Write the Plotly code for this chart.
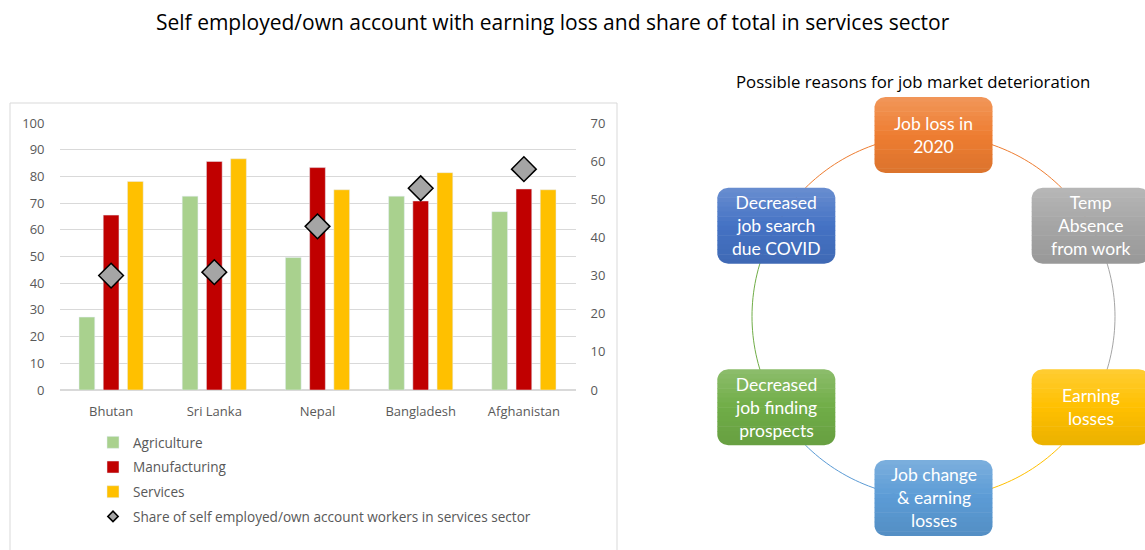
import math
import plotly.graph_objects as go

# ---------------- data ----------------
countries = ["Bhutan", "Sri Lanka", "Nepal", "Bangladesh", "Afghanistan"]
agriculture = [27.3, 72.6, 49.6, 72.6, 66.8]
manufacturing = [65.5, 85.6, 83.3, 70.8, 75.3]
services = [78.1, 86.6, 75.0, 81.4, 75.0]
share_services = [30.0, 30.9, 42.9, 52.9, 57.9]

title_text = "Self employed/own account with earning loss and share of total in services sector"
diagram_title = "Possible reasons for job market deterioration"
share_name = "Share of self employed/own account workers in services sector"
cycle_labels = [
    "Job loss in<br>2020",
    "Temp<br>Absence<br>from work",
    "Earning<br>losses",
    "Job change<br>& earning<br>losses",
    "Decreased<br>job finding<br>prospects",
    "Decreased<br>job search<br>due COVID",
]
cycle_colors = ["#EE7D31", "#A5A5A5", "#FFC000", "#5B9BD5", "#70AD47", "#4472C4"]
arc_colors = ["#EE7D31", "#A5A5A5", "#FFC000", "#5B9BD5", "#70AD47", "#EE7D31"]

W, H = 1145, 550
FONT = "'Open Sans', Lato, sans-serif"
BOXFONT = "Lato, 'Open Sans', sans-serif"


def fx(px):
    return px / W


def fy(py):
    return 1 - py / H


fig = go.Figure()
fig.add_trace(go.Bar(name="Agriculture", x=countries, y=agriculture,
                     marker_color="#A9D18E", legendgroup="a"))
fig.add_trace(go.Bar(name="Manufacturing", x=countries, y=manufacturing,
                     marker_color="#C00000", legendgroup="b"))
fig.add_trace(go.Bar(name="Services", x=countries, y=services,
                     marker_color="#FFC000", legendgroup="c"))
fig.add_trace(go.Scatter(name=share_name, x=countries, y=share_services, yaxis="y2", mode="markers",
                         marker=dict(symbol="diamond", size=19, color="#A5A5A5",
                                     line=dict(color="#000000", width=1.5)),
                         legendgroup="d", showlegend=False))
# legend-only entry with a small marker
fig.add_trace(go.Scatter(name=share_name, x=[None], y=[None], yaxis="y2", mode="markers",
                         marker=dict(symbol="diamond", size=8, color="#A5A5A5",
                                     line=dict(color="#000000", width=1.5)),
                         legendgroup="d", showlegend=True, hoverinfo="skip"))

px0, px1 = 59.5, 575.5
y0px, y100px = 390, 123
fig.update_layout(
    width=W, height=H, autosize=False,
    margin=dict(l=0, r=0, t=0, b=0, autoexpand=False),
    paper_bgcolor="white", plot_bgcolor="rgba(0,0,0,0)",
    font=dict(family=FONT, color="#595959", size=13),
    barmode="group", bargap=0.296, bargroupgap=0.35,
    xaxis=dict(domain=[fx(px0), fx(px1)], anchor="y", showgrid=False, showline=False,
               ticks="", ticklabelstandoff=12, automargin=False,
               tickfont=dict(size=13, color="#595959")),
    yaxis=dict(domain=[fy(y0px), fy(y100px)], range=[0, 100], dtick=10,
               gridcolor="#D9D9D9", gridwidth=1, zeroline=True, zerolinecolor="#D9D9D9",
               showline=False, ticks="", ticklabelstandoff=14, automargin=False,
               tickfont=dict(size=13, color="#595959")),
    yaxis2=dict(overlaying="y", side="right", anchor="x", range=[0, 70], dtick=10,
                showgrid=False, zeroline=False, showline=False, ticks="", automargin=False,
                ticklabelstandoff=14, tickfont=dict(size=13, color="#595959")),
    legend=dict(x=fx(93), y=fy(427), xanchor="left", yanchor="top",
                orientation="v", tracegroupgap=4, bgcolor="rgba(0,0,0,0)",
                font=dict(size=13.6, color="#595959", family=FONT)),
    showlegend=True,
)

shapes = []
# chart frame
shapes.append(dict(type="rect", xref="paper", yref="paper", x0=fx(10), y0=fy(103), x1=fx(617), y1=fy(565),
                   line=dict(color="#D9D9D9", width=1), fillcolor="rgba(0,0,0,0)", layer="below"))

# cycle diagram geometry (pixels)
cx, cy, R = 933.5, 316.5, 181.5
bw, bh, rr = 118, 76, 11
angles = [90, 30, -30, -90, -150, 150]
centers = [(cx + R * math.cos(math.radians(a)), cy - R * math.sin(math.radians(a))) for a in angles]

# arcs
for i in range(6):
    a0 = angles[i]
    a1 = angles[i] - 60
    pts = []
    n = 40
    for k in range(n + 1):
        a = math.radians(a0 + (a1 - a0) * k / n)
        pts.append((cx + R * math.cos(a), cy - R * math.sin(a)))
    path = "M " + " L ".join(f"{fx(x):.5f},{fy(y):.5f}" for x, y in pts)
    shapes.append(dict(type="path", xref="paper", yref="paper", path=path,
                       line=dict(color=arc_colors[i], width=1)))


def hex_to_rgb(h):
    h = h.lstrip("#")
    return [int(h[i:i + 2], 16) for i in (0, 2, 4)]


def mix(c1, c2, t):
    return [c1[k] + (c2[k] - c1[k]) * t for k in range(3)]


def rgb_str(c):
    return "rgb(%d,%d,%d)" % tuple(int(round(v)) for v in c)


def x_extent(y, x0, x1, y0, y1, r):
    if y < y0 + r:
        d = y0 + r - y
    elif y > y1 - r:
        d = y - (y1 - r)
    else:
        d = 0.0
    d = min(d, r)
    inset = r - math.sqrt(max(r * r - d * d, 0.0))
    return x0 + inset, x1 - inset


def band_path(x0, x1, y0, y1, r, ya, yb, steps=5):
    left, right = [], []
    for k in range(steps + 1):
        y = ya + (yb - ya) * k / steps
        xl, xr = x_extent(y, x0, x1, y0, y1, r)
        left.append((xl, y))
        right.append((xr, y))
    pts = left + right[::-1]
    return "M " + " L ".join(f"{fx(x):.5f},{fy(y):.5f}" for x, y in pts) + " Z"


annotations = []
nb = 16
for (x, y), lab, col in zip(centers, cycle_labels, cycle_colors):
    base = hex_to_rgb(col)
    top = mix(base, [255, 255, 255], 0.2)
    bot = mix(base, [0, 0, 0], 0.08)
    bx0, bx1, by0, by1 = x - bw / 2, x + bw / 2, y - bh / 2, y + bh / 2
    for b in range(nb):
        ya = by0 + bh * b / nb
        yb = min(by0 + bh * (b + 1) / nb + 0.6, by1)
        t = (b + 0.5) / nb
        c = mix(top, base, t / 0.5) if t < 0.5 else mix(base, bot, (t - 0.5) / 0.5)
        shapes.append(dict(type="path", xref="paper", yref="paper",
                           path=band_path(bx0, bx1, by0, by1, rr, ya, yb),
                           fillcolor=rgb_str(c), line=dict(width=0)))
    annotations.append(dict(x=fx(x), y=fy(y), xref="paper", yref="paper", text=lab, showarrow=False,
                            font=dict(family=BOXFONT, size=17.5, color="white"),
                            align="center", xanchor="center", yanchor="middle"))

annotations.append(dict(x=fx(553), y=fy(22), xref="paper", yref="paper", text=title_text,
                        showarrow=False, xanchor="center", yanchor="middle",
                        font=dict(family=FONT, size=21, color="#000000")))
annotations.append(dict(x=fx(913), y=fy(82), xref="paper", yref="paper", text=diagram_title,
                        showarrow=False, xanchor="center", yanchor="middle",
                        font=dict(family=FONT, size=16.8, color="#000000")))

fig.update_layout(shapes=shapes, annotations=annotations)
fig.write_html("out.html", config={"displayModeBar": False},
               post_script="document.body.style.margin='0';")
